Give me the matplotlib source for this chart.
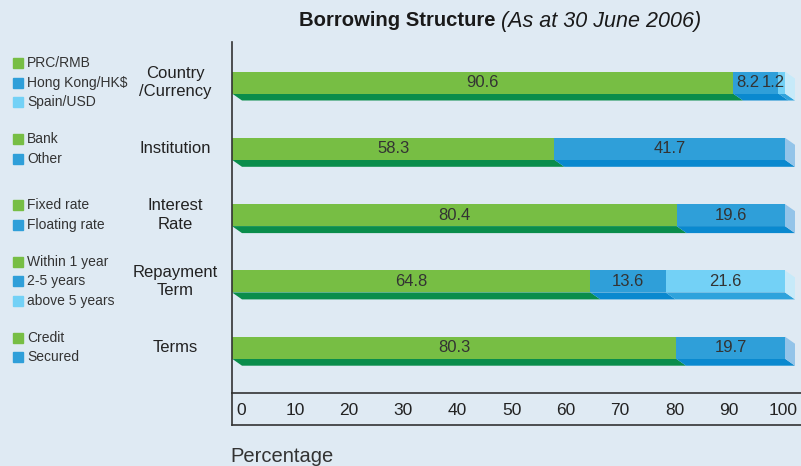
import numpy as np
import matplotlib
matplotlib.use("Agg")
import matplotlib.pyplot as plt
from matplotlib.patches import Polygon
from matplotlib.lines import Line2D
import matplotlib.transforms as mtransforms

plt.rcParams['font.family'] = ['Liberation Sans', 'DejaVu Sans']

categories = ["Country\n/Currency", "Institution", "Interest\nRate", "Repayment\nTerm", "Terms"]
values = [[90.6, 8.2, 1.2],
          [58.3, 41.7],
          [80.4, 19.6],
          [64.8, 13.6, 21.6],
          [80.3, 19.7]]
legend_labels = [["PRC/RMB", "Hong Kong/HK$", "Spain/USD"],
                 ["Bank", "Other"],
                 ["Fixed rate", "Floating rate"],
                 ["Within 1 year", "2-5 years", "above 5 years"],
                 ["Credit", "Secured"]]
ticks = np.arange(0, 101, 10)

bg = '#dfeaf3'
front = ['#77be44', '#2f9fd9', '#73d1f6']
strip = ['#0a8d4b', '#0a89cf', '#2fa3dc']
side = ['#a8d68c', '#93c4e9', '#c7eaf9']

W, H = 801, 466
fig = plt.figure(figsize=(W / 100, H / 100), dpi=100, facecolor=bg)
ax = fig.add_axes([232 / W, 1 - 393 / H, (W - 232) / W, (393 - 42) / H], facecolor=bg)

px_x = 5.53          # pixels per percent
px_y = 66.3          # pixels per category
ax.set_xlim(0, (W - 232) / px_x)
ax.set_ylim((393 - 82.5) / px_y, (42 - 82.5) / px_y)

face_h = 22 / px_y
dy = 7 / px_y
dx = 10 / px_x

for i, row in enumerate(values):
    top = i - face_h / 2
    bot = i + face_h / 2
    left = 0
    for j, v in enumerate(row):
        right = left + v
        ax.add_patch(Polygon([(left, bot), (right, bot), (right + dx, bot + dy), (left + dx, bot + dy)],
                             closed=True, facecolor=strip[j], edgecolor='none'))
        ax.add_patch(Polygon([(left, top), (right, top), (right, bot), (left, bot)],
                             closed=True, facecolor=front[j], edgecolor='none'))
        if j == len(row) - 1:
            ax.add_patch(Polygon([(right, top), (right + dx, top + dy), (right + dx, bot + dy), (right, bot)],
                                 closed=True, facecolor=side[j], edgecolor='none'))
        # narrow segments get their label nudged left so they don't collide
        shift = -1.5 if v < 10 else 0
        ax.text(left + v / 2 + shift, i, f"{v:.1f}", ha='center', va='center', fontsize=12,
                color='#333333')
        left = right

# axis styling
for s in ['top', 'right']:
    ax.spines[s].set_visible(False)
ax.spines['left'].set_color('#333333')
ax.spines['bottom'].set_color('#333333')
ax.spines['left'].set_linewidth(1.2)
ax.spines['bottom'].set_linewidth(1.2)
ax.set_yticks([])
ax.set_xticks(ticks * 0.98 + 1.6)
ax.set_xticklabels([str(t) for t in ticks], fontsize=12.5, color='#222222')
ax.tick_params(axis='x', length=0, pad=7)

# lower frame below tick labels
fig.add_artist(Line2D([232 / W, 232 / W], [1 - 393 / H, 1 - 425 / H], transform=fig.transFigure,
                      color='#333333', lw=1.2))
fig.add_artist(Line2D([232 / W, 1.0], [1 - 425 / H, 1 - 425 / H], transform=fig.transFigure,
                      color='#333333', lw=1.2))

# category labels and legends
trans = mtransforms.blended_transform_factory(fig.transFigure, ax.transData)
step = 19.5 / px_y
for i, cat in enumerate(categories):
    ax.text(175 / W, i, cat, transform=trans, ha='center', va='center', fontsize=12,
            color='#222222', linespacing=1.3, clip_on=False)
    labs = legend_labels[i]
    n = len(labs)
    for k, lab in enumerate(labs):
        y = i + (k - (n - 1) / 2) * step
        ax.add_line(Line2D([17.5 / W], [y], transform=trans, marker='s', markersize=6.5,
                           color=front[k], linestyle='none', clip_on=False))
        ax.text(27 / W, y, lab, transform=trans, ha='left', va='center', fontsize=10,
                color='#333333', clip_on=False)

# title
fig.text(496 / W, 1 - 21 / H, "Borrowing Structure", ha='right', va='center', fontsize=14.6,
         fontweight='bold', color='#1a1a1a')
fig.text(501 / W, 1 - 21 / H, "(As at 30 June 2006)", ha='left', va='center', fontsize=15.5,
         style='italic', color='#1a1a1a')

fig.text(230 / W, 1 - 457 / H, "Percentage", ha='left', va='center', fontsize=14.5, color='#333333')

fig.savefig("out.png", dpi=100, facecolor=bg)
